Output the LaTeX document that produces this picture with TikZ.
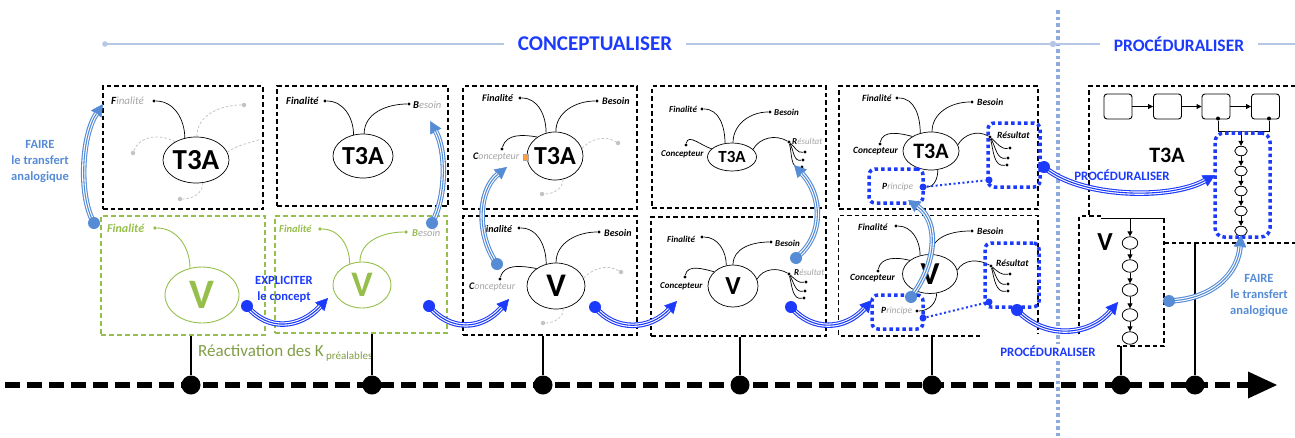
\documentclass[tikz,border=0pt]{standalone}
\usepackage{fontspec}
\setmainfont{Carlito}
\usetikzlibrary{arrows.meta,shapes.geometric,fit}
\definecolor{bblue}{RGB}{28,58,252}
\definecolor{lblue}{RGB}{86,140,214}
\definecolor{hdrc}{RGB}{180,199,231}
\definecolor{vdotc}{RGB}{143,170,220}
\definecolor{kgreen}{RGB}{150,190,75}
\definecolor{tgreen}{RGB}{128,158,70}
\definecolor{lgrey}{RGB}{165,165,165}
\definecolor{ggrey}{RGB}{195,195,195}
\newcommand{\fs}[1]{\fontsize{#1}{#1}\selectfont}
\tikzset{
 boxd/.style={draw=black, line width=1.1pt, dash pattern=on 4.5pt off 3pt, inner sep=0pt},
 boxg/.style={draw=kgreen, line width=1.2pt, dash pattern=on 5pt off 3pt, inner sep=0pt},
 ell/.style={ellipse, draw=black, line width=0.7pt, inner sep=0pt},
 ellg/.style={ellipse, draw=kgreen, line width=0.9pt, inner sep=0pt},
 big/.style={font=\fs{#1}\bfseries, inner sep=0pt},
 dotk/.style={circle, fill=black, inner sep=0pt, minimum size=3.4pt},
 dotg/.style={circle, fill=kgreen, inner sep=0pt, minimum size=3.6pt},
 dotl/.style={circle, fill=ggrey, inner sep=0pt, minimum size=4.5pt},
 dotb/.style={circle, fill=bblue, inner sep=0pt, minimum size=7pt},
 br/.style={draw=black, line width=0.7pt},
 brg/.style={draw=kgreen, line width=0.9pt},
 brl/.style={draw=ggrey, line width=0.8pt, dash pattern=on 2.5pt off 2pt},
 lbl/.style={font=\fs{#1}\itshape, inner sep=0pt, anchor=west},
 lblb/.style={lbl=#1, font=\fs{#1}\bfseries\itshape},
 tri/.style={draw=#1, line width=5.5pt, -{Triangle[length=12pt,width=12.5pt,line width=0.5pt]},
   postaction={draw=white, line width=3.3pt, -, shorten >=11.5pt},
   postaction={draw=#1, line width=1.1pt, -, shorten >=11.5pt}},
 sdot/.style={circle, fill=#1, inner sep=0pt, minimum size=12pt},
 bdots/.style={draw=bblue, line width=3.5pt, dash pattern=on 3.5pt off 3pt, rounded corners=6pt, inner sep=0pt},
 bline/.style={draw=bblue, line width=2pt, dash pattern=on 2pt off 2.5pt},
 sq/.style={draw, rounded corners=3pt, minimum width=28pt, minimum height=25pt, line width=0.9pt, inner sep=0pt},
 arr/.style={line width=0.9pt, -{Triangle[length=5pt,width=5pt]}},
 axdot/.style={circle, fill=black, inner sep=0pt, minimum size=19pt},
 vl/.style={line width=2pt},
 ftxt/.style={align=center, font=\fontsize{12.5}{16}\selectfont\bfseries, text=#1},
}
\begin{document}
\begin{tikzpicture}[x=1pt,y=-1pt]
\useasboundingbox (0,0) rectangle (1295,437);
% ---------- header ----------
\draw[vdotc, line width=3.5pt, dash pattern=on 3.5pt off 3pt] (1058,10) -- (1058,437);
\coordinate (hL) at (105,44);
\node[font=\fs{21}\bfseries, text=bblue, inner xsep=14pt, inner ysep=0pt] (hC) at (595,44) {CONCEPTUALISER};
\coordinate (hM) at (1053,44);
\node[font=\fs{17.5}\bfseries, text=bblue, inner xsep=14pt, inner ysep=0pt] (hP) at (1179,44) {PROCÉDURALISER};
\coordinate (hR) at (1295,44);
\draw[hdrc, line width=2.8pt] (hL) -- (hC) -- (hM) -- (hP) -- (hR);
\fill[hdrc] (hL) circle (2.8pt);
\fill[hdrc] (hM) circle (3.2pt);
% ---------- boxes ----------
\node[boxd, fit={(103,86)(263,209)}] (bA1) {};
\node[boxg, fit={(101,216)(265,335)}] (bA2) {};
\node[boxd, fit={(277,86)(448,206)}] (bB1) {};
\node[boxg, fit={(275,216)(447,333)}] (bB2) {};
\node[boxd, fit={(463,86)(637,209)}] (bC1) {};
\node[boxd, fit={(463,216)(637,335)}] (bC2) {};
\node[boxd, fit={(652,86)(826,208)}] (bD1) {};
\node[boxd, fit={(651,217)(826,336)}] (bD2) {};
\node[boxd, fit={(839,86)(1038,209)}] (bE1) {};
\node[inner sep=0pt, fit={(839,216)(1038,336)}] (bE2) {};
\draw[boxd] (980,336) -| (bE2.north west) -| (1038,333);
% ---------- box A top ----------
\node[ell, minimum width=66pt, minimum height=46pt] (eA1) at (196,160) {};
\node[big=29] (tA1) at (eA1) {T3A};
\node[dotk] (fA1) at (154,101) {};
\node[lbl=11] (lA1) at (111,101) {\textbf{F}\textcolor{lgrey}{inalité}};
\draw[br] (fA1) to[out=0,in=90] (eA1.117);
\node[dotl] (gA1) at (244,105) {};
\node[dotl] (gA2) at (133,153) {};
\node[dotl] (gA3) at (180,199) {};
\coordinate (gA4) at (261,139);
\draw[brl] (eA1.88) to[out=90,in=180] (gA1);
\draw[brl] (eA1.14) to[out=35,in=200] (gA4);
\draw[brl] (eA1.139) to[out=150,in=70] (gA2);
\draw[brl] (eA1.-73) to[out=-90,in=0] (gA3);
% ---------- box A bottom ----------
\node[ellg, minimum width=74pt, minimum height=56pt] (eA2) at (202,295) {};
\node[big=42, text=kgreen] (tA2) at (eA2) {V};
\node[dotg] (fA2) at (155,228) {};
\node[lblb=12, text=kgreen] (lA2) at (107,228) {Finalité};
\draw[brg] (fA2) to[out=0,in=90] (eA2.114);
\node[anchor=base west, inner sep=0pt, text=tgreen, font=\fs{17}] (react) at (198,356) {Réactivation des K\raisebox{-3pt}{\fs{11} préalables}};
% ---------- box B top ----------
\node[ell, minimum width=60pt, minimum height=44pt] (eB1) at (363,156) {};
\node[big=26] (tB1) at (eB1) {T3A};
\node[dotk] (fB1) at (325,101) {};
\node[lblb=10.5] (lB1) at (286,101) {Finalité};
\node[dotk] (sB1) at (409,104) {};
\node[lbl=10.5] (mB1) at (413,105) {\textbf{B}\textcolor{lgrey}{esoin}};
\draw[br] (fB1) to[out=0,in=90] (eB1.114);
\draw[br] (eB1.87) to[out=90,in=180] (sB1);
% ---------- box B bottom ----------
\node[ellg, minimum width=58pt, minimum height=46pt] (eB2) at (362,285) {};
\node[big=36, text=kgreen] (tB2) at (eB2) {V};
\node[dotg] (fB2) at (320,229) {};
\node[lblb=10.5, text=kgreen] (lB2) at (279,229) {Finalité};
\node[dotg] (sB2) at (406,232) {};
\node[lbl=10.5] (mB2) at (412,233) {\textcolor{kgreen}{\textbf{B}}\textcolor{lgrey}{esoin}};
\draw[brg] (fB2) to[out=0,in=90] (eB2.120);
\draw[brg] (eB2.95) to[out=90,in=180] (sB2);
% ---------- box C top ----------
\node[ell, minimum width=56pt, minimum height=48pt] (eC1) at (555,156) {};
\node[big=26] (tC1) at (eC1) {T3A};
\node[dotk] (fC1) at (520,98) {};
\node[lblb=10] (lC1) at (482,98) {Finalité};
\node[dotk] (sC1) at (597,101) {};
\node[lblb=10] (mC1) at (602,101) {Besoin};
\node[dotk] (cC1) at (502,149) {};
\node[lbl=10] (nC1) at (473,157) {\textbf{C}\textcolor{lgrey}{oncepteur}};
\node[draw=lgrey, fill=orange!75, line width=0.3pt, minimum width=5pt, minimum height=6pt, inner sep=0pt] (icC) at (526,157) {};
\draw[br] (fC1) to[out=0,in=90] (eC1.111);
\draw[br] (eC1.88) to[out=90,in=180] (sC1);
\draw[br] (cC1) to[out=75,in=170] (eC1.133);
\node[dotl] (gC1) at (618,143) {};
\node[dotl] (gC2) at (542,194) {};
\draw[brl] (eC1.16) to[out=45,in=150] (gC1);
\draw[brl] (eC1.-71) to[out=-90,in=0] (gC2);
% ---------- box C bottom ----------
\node[ell, minimum width=58pt, minimum height=46pt] (eC2) at (556,286) {};
\node[big=33] (tC2) at (eC2) {V};
\node[dotk] (fC2) at (519,228) {};
\node[lblb=10] (lC2) at (481,229) {Finalité};
\node[dotk] (sC2) at (599,232) {};
\node[lblb=10] (mC2) at (604,233) {Besoin};
\node[dotk] (cC2) at (500,279) {};
\node[lbl=10] (nC2) at (469,287) {\textbf{C}\textcolor{lgrey}{oncepteur}};
\draw[br] (fC2) to[out=0,in=90] (eC2.114);
\draw[br] (eC2.90) to[out=90,in=180] (sC2);
\draw[br] (cC2) to[out=75,in=170] (eC2.138);
\node[dotl] (gC3) at (621,272) {};
\node[dotl] (gC4) at (543,323) {};
\draw[brl] (eC2.16) to[out=45,in=150] (gC3);
\draw[brl] (eC2.-72) to[out=-90,in=0] (gC4);
% ---------- box D top ----------
\node[ell, minimum width=49pt, minimum height=28pt] (eD1) at (732,157) {};
\node[big=17] (tD1) at (eD1) {T3A};
\node[dotk] (fD1) at (702,109) {};
\node[lblb=9] (lD1) at (669,109) {Finalité};
\node[dotk] (sD1) at (770,112) {};
\node[lblb=9] (mD1) at (774,112) {Besoin};
\node[dotk] (cD1) at (686,145) {};
\node[lblb=9] (nD1) at (661,154) {Concepteur};
\node[dotk] (rD1) at (789,142) {};
\node[lbl=9] (oD1) at (792,141) {\textbf{R}\textcolor{lgrey}{ésultat}};
\draw[br] (fD1) to[out=0,in=90] (eD1.117);
\draw[br] (eD1.86) to[out=90,in=180] (sD1);
\draw[br] (cD1) to[out=80,in=165] (eD1.158);
\draw[br] (eD1.20) to[out=60,in=150] (rD1);
\node[dotk] (kD1) at (805,152) {};
\node[dotk] (kD2) at (803,160) {};
\node[dotk] (kD3) at (802,167) {};
\draw[br] (rD1) to[out=-40,in=190] (kD1);
\draw[br] (rD1) to[out=-60,in=190] (kD2);
\draw[br] (rD1) to[out=-75,in=190] (kD3);
% ---------- box D bottom ----------
\node[ell, minimum width=50pt, minimum height=42pt] (eD2) at (733,286) {};
\node[big=26] (tD2) at (eD2) {V};
\node[dotk] (fD2) at (702,237) {};
\node[lblb=9] (lD2) at (667,239) {Finalité};
\node[dotk] (sD2) at (771,242) {};
\node[lblb=9] (mD2) at (775,243) {Besoin};
\node[dotk] (cD2) at (685,277) {};
\node[lblb=9] (nD2) at (660,286) {Concepteur};
\node[dotk] (rD2) at (789,274) {};
\node[lbl=9] (oD2) at (794,272) {\textbf{R}\textcolor{lgrey}{ésultat}};
\draw[br] (fD2) to[out=0,in=90] (eD2.108);
\draw[br] (eD2.90) to[out=90,in=180] (sD2);
\draw[br] (cD2) to[out=80,in=165] (eD2.143);
\draw[br] (eD2.16) to[out=60,in=150] (rD2);
\node[dotk] (kD4) at (806,282) {};
\node[dotk] (kD5) at (805,291) {};
\node[dotk] (kD6) at (804,298) {};
\draw[br] (rD2) to[out=-40,in=190] (kD4);
\draw[br] (rD2) to[out=-60,in=190] (kD5);
\draw[br] (rD2) to[out=-75,in=190] (kD6);
% ---------- box E top ----------
\node[ell, minimum width=56pt, minimum height=38pt] (eE1) at (931,151) {};
\node[big=22] (tE1) at (eE1) {T3A};
\node[dotk] (fE1) at (897,98) {};
\node[lblb=9.5] (lE1) at (862,98) {Finalité};
\node[dotk] (sE1) at (972,102) {};
\node[lblb=9.5] (mE1) at (977,102) {Besoin};
\node[dotk] (cE1) at (880,144) {};
\node[lblb=9.5] (nE1) at (853,151) {Concepteur};
\node[dotk] (rE1) at (990,137) {};
\node[lblb=9.5] (oE1) at (997,135) {Résultat};
\node[lbl=9.5] (pE1t) at (882,187) {\textbf{P}\textcolor{lgrey}{rincipe}};
\draw[br] (fE1) to[out=0,in=90] (eE1.121);
\draw[br] (eE1.87) to[out=90,in=180] (sE1);
\draw[br] (cE1) to[out=80,in=165] (eE1.142);
\draw[br] (eE1.13) to[out=60,in=150] (rE1);
\node[dotk] (kE1) at (1010,148) {};
\node[dotk] (kE2) at (1008,158) {};
\node[dotk] (kE3) at (1007,165) {};
\draw[br] (rE1) to[out=-40,in=190] (kE1);
\draw[br] (rE1) to[out=-60,in=190] (kE2);
\draw[br] (rE1) to[out=-75,in=190] (kE3);
\node[bdots, fit={(869,169)(923,203)}] (pR1) {};
\node[bdots, fit={(988,123)(1040,187)}] (rR1) {};
\node[dotb] (pE1) at (923,187) {};
\node[dotb] (qE1) at (989,180) {};
\draw[br] (eE1.-70) to[out=-90,in=0] (pE1);
\draw[bline] (pE1) -- (qE1);
% ---------- box E bottom ----------
\node[ell, minimum width=55pt, minimum height=39pt] (eE2) at (930,274) {};
\node[big=32] (tE2) at (eE2) {V};
\node[dotk] (fE2) at (896,226) {};
\node[lblb=9.5] (lE2) at (858,227) {Finalité};
\node[dotk] (sE2) at (972,231) {};
\node[lblb=9.5] (mE2) at (977,231) {Besoin};
\node[dotk] (cE2) at (878,271) {};
\node[lblb=9.5] (nE2) at (850,278) {Concepteur};
\node[dotk] (rE2) at (991,266) {};
\node[lblb=9.5] (oE2) at (996,263) {Résultat};
\node[lbl=9.5] (pE2t) at (881,311) {\textbf{P}\textcolor{lgrey}{rincipe}};
\node[dotk] (pE2k) at (917,311) {};
\draw[br] (fE2) to[out=0,in=90] (eE2.118);
\draw[br] (eE2.86) to[out=90,in=180] (sE2);
\draw[br] (cE2) to[out=80,in=165] (eE2.146);
\draw[br] (eE2.8) to[out=60,in=150] (rE2);
\draw[br] (eE2.-71) to[out=-90,in=0] (pE2k);
\node[dotk] (kE4) at (1010,274) {};
\node[dotk] (kE5) at (1008,284) {};
\node[dotk] (kE6) at (1008,291) {};
\draw[br] (rE2) to[out=-40,in=190] (kE4);
\draw[br] (rE2) to[out=-60,in=190] (kE5);
\draw[br] (rE2) to[out=-75,in=190] (kE6);
\node[bdots, fit={(872,295)(923,329)}] (pR2) {};
\node[bdots, fit={(985,243)(1039,307)}] (rR2) {};
\node[dotb] (pE2) at (923,318) {};
\node[dotb] (qE2) at (989,302) {};
\draw[bline] (pE2) -- (qE2);
% ---------- box F (T3A procedure) ----------
\draw[boxd] (1295,86) -- (1089,86) -- (1089,216);
\draw[boxd] (1164,243) -- (1295,243);
\node[sq] (q1) at (1118,106.5) {};
\node[sq] (q2) at (1167.5,106.5) {};
\node[sq] (q3) at (1216,106.5) {};
\node[sq] (q4) at (1265.5,106.5) {};
\draw[arr] (q1) -- (q2);
\draw[arr] (q2) -- (q3);
\draw[arr] (q3) -- (q4);
\node[dotk, minimum size=4pt] (q3d) at (1218,118.5) {};
\node[dotk, minimum size=4pt] (q4d) at (1269,118.5) {};
\coordinate (jn) at (1241,131);
\draw[line width=0.9pt] (q3d) |- (jn) -| (q4d);
\foreach \i/\y in {1/151,2/171,3/191,4/211,5/231}{
  \node[ell, line width=0.8pt, minimum width=12.5pt, minimum height=9.5pt] (c\i) at (1241,\y) {};
}
\draw[arr] (jn) -- (c1);
\draw[arr] (c1) -- (c2);
\draw[arr] (c2) -- (c3);
\draw[arr] (c3) -- (c4);
\draw[arr] (c4) -- (c5);
\node[bdots, rounded corners=9pt, fit={(1215,133)(1270,237)}] (colR) {};
\node[big=22] (tF) at (1167,155) {T3A};
% ---------- V procedure box ----------
\draw[boxd] (1101,216) -- (1079,216) -- (1079,335);
\coordinate (vbL) at (1101,218);
\coordinate (vbR) at (1164,218);
\coordinate (vb) at (1130,218);
\draw[line width=0.9pt] (vbL) -- (vbR);
\draw[boxd] (1164,218) -- (1164,346) -- (1117,346);
\node[big=26] (tV) at (1105,242) {V};
\foreach \i/\y in {1/243,2/266,3/290,4/315,5/338}{
  \node[ell, line width=0.8pt, minimum width=15.5pt, minimum height=12.5pt] (v\i) at (1130,\y) {};
}
\draw[arr] (vb) -- (v1);
\draw[arr] (v1) -- (v2);
\draw[arr] (v2) -- (v3);
\draw[arr] (v3) -- (v4);
\draw[arr] (v4) -- (v5);
% ---------- time axis ----------
\draw[line width=6pt, dash pattern=on 15pt off 7pt] (5,385) -- (1250,385);
\coordinate (axE) at (1277,385);
\fill (1248,371.5) -- (axE) -- (1248,398.5) -- cycle;
\foreach \i/\x in {1/191,2/372,3/543,4/740,5/932,6/1121,7/1195}{
  \node[axdot] (ax\i) at (\x,385) {};
}
\coordinate (vEnd) at (1121,346);
\coordinate (fEnd) at (1195,243);
\draw[vl] (ax1 |- bA2.south) -- (ax1);
\draw[vl] (ax2 |- bB2.south) -- (ax2);
\draw[vl] (ax3 |- bC2.south) -- (ax3);
\draw[vl] (ax4 |- bD2.south) -- (ax4);
\draw[vl] (ax5 |- bE2.south) -- (ax5);
\draw[vl] (vEnd) -- (ax6);
\draw[vl] (fEnd) -- (ax7);
% ---------- transfer / action arrows ----------
\coordinate (a1s) at (94,223); \coordinate (a1e) at (103,104);
\draw[tri=lblue] (a1s) .. controls (78,195) and (82,135) .. (a1e);
\node[sdot=lblue] (a1d) at (a1s) {};
\node[ftxt=lblue] (t1) at (40,162) {FAIRE\\le transfert\\analogique};

\coordinate (a2s) at (432,223); \coordinate (a2e) at (430,121);
\draw[tri=lblue] (a2s) .. controls (447,195) and (446,150) .. (a2e);
\node[sdot=lblue] (a2d) at (a2s) {};

\coordinate (a3s) at (247,306); \coordinate (a3e) at (328,298);
\draw[tri=bblue] (a3s) .. controls (268,332) and (300,328) .. (a3e);
\node[sdot=bblue] (a3d) at (a3s) {};
\node[ftxt=bblue] (t3) at (284,289) {EXPLICITER\\le concept};

\coordinate (a4s) at (429,306); \coordinate (a4e) at (509,299);
\draw[tri=bblue] (a4s) .. controls (450,332) and (482,330) .. (a4e);
\node[sdot=bblue] (a4d) at (a4s) {};

\coordinate (a5s) at (497,264); \coordinate (a5e) at (507,167);
\draw[tri=lblue] (a5s) .. controls (476,235) and (478,190) .. (a5e);
\node[sdot=lblue] (a5d) at (a5s) {};

\coordinate (a6s) at (595,307); \coordinate (a6e) at (677,301);
\draw[tri=bblue] (a6s) .. controls (615,332) and (650,330) .. (a6e);
\node[sdot=bblue] (a6d) at (a6s) {};

\coordinate (a7s) at (796,258); \coordinate (a7e) at (794,165);
\draw[tri=lblue] (a7s) .. controls (825,235) and (822,195) .. (a7e);
\node[sdot=lblue] (a7d) at (a7s) {};

\coordinate (a8s) at (791,307); \coordinate (a8e) at (872,300);
\draw[tri=bblue] (a8s) .. controls (812,332) and (845,330) .. (a8e);
\node[sdot=bblue] (a8d) at (a8s) {};

\coordinate (a9s) at (911,297); \coordinate (a9e) at (908,200);
\draw[tri=lblue] (a9s) .. controls (936,265) and (940,222) .. (a9e);
\node[sdot=lblue] (a9d) at (a9s) {};

\coordinate (a10s) at (1044,167); \coordinate (a10e) at (1215,175);
\draw[tri=bblue] (a10s) .. controls (1080,198) and (1170,200) .. (a10e);
\node[sdot=bblue] (a10d) at (a10s) {};
\node[font=\fs{12.8}\bfseries, text=bblue, inner sep=0pt] (t10) at (1122,175) {PROCÉDURALISER};

\coordinate (a11s) at (1017,310); \coordinate (a11e) at (1118,302);
\draw[tri=bblue] (a11s) .. controls (1045,340) and (1090,336) .. (a11e);
\node[sdot=bblue] (a11d) at (a11s) {};
\node[font=\fs{12.8}\bfseries, text=bblue, fill=white, inner sep=2pt] (t11) at (1048,351) {PROCÉDURALISER};

\coordinate (a12s) at (1169,301); \coordinate (a12e) at (1241,235);
\draw[tri=lblue] (a12s) .. controls (1215,299) and (1238,272) .. (a12e);
\node[sdot=lblue] (a12d) at (a12s) {};
\node[ftxt=lblue] (t12) at (1259,295) {FAIRE\\le transfert\\analogique};
\end{tikzpicture}
\end{document}
